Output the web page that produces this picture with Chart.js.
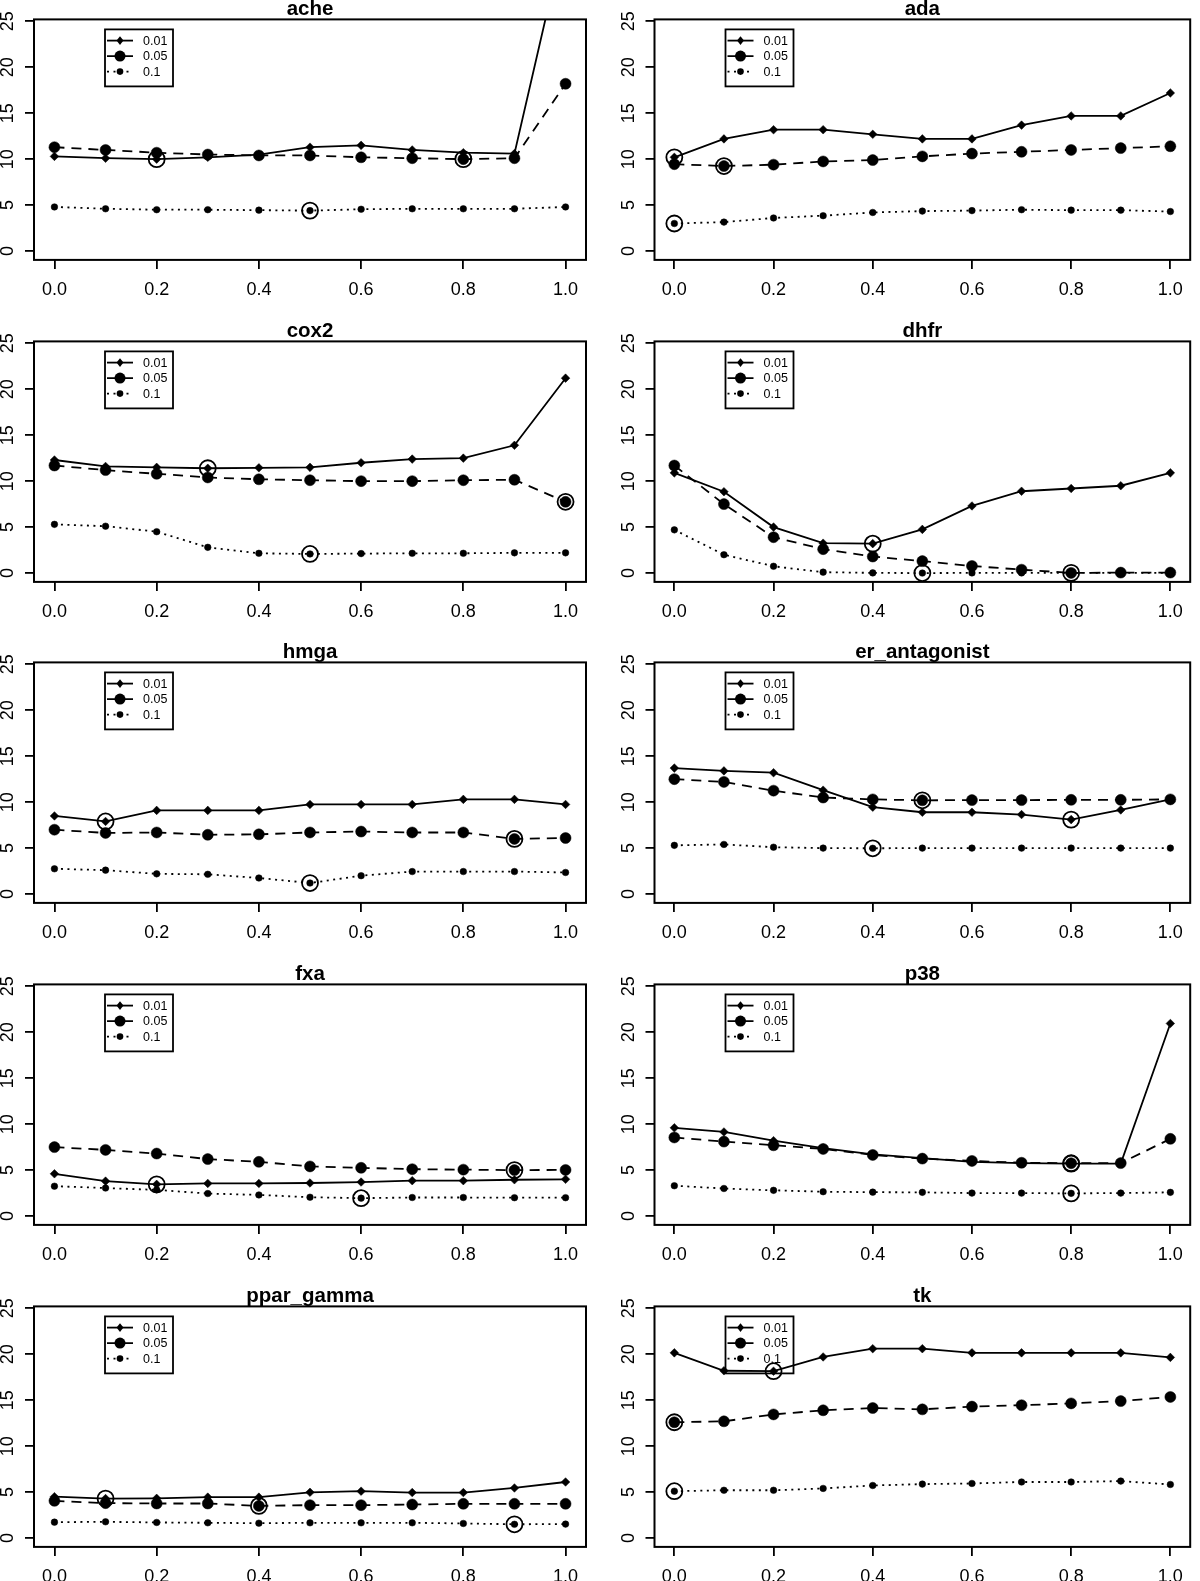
<!DOCTYPE html>
<html>
<head>
<meta charset="utf-8">
<script src="https://cdn.jsdelivr.net/npm/chart.js@4/dist/chart.umd.min.js"></script>
<style>
  html, body { margin: 0; padding: 0; background: #fff; }
  #page { position: relative; width: 1200px; height: 1581px; overflow: hidden; background: #fff; }
  #page canvas { position: absolute; }
</style>
</head>
<body>
<div id="page"></div>
<script>
// x grid shared by every panel
const xValues = [0, 0.1, 0.2, 0.3, 0.4, 0.5, 0.6, 0.7, 0.8, 0.9, 1.0];
const xTicks = [0, 0.2, 0.4, 0.6, 0.8, 1.0];
const yTicks = [0, 5, 10, 15, 20, 25];
const legendLabels = ['0.01', '0.05', '0.1'];
const panelNames = ['ache', 'ada', 'cox2', 'dhfr', 'hmga', 'er_antagonist', 'fxa', 'p38', 'ppar_gamma', 'tk'];

const ache01 = [10.3, 10.1, 10.0, 10.2, 10.5, 11.3, 11.5, 11.0, 10.7, 10.6, 34.7];
const ache05 = [11.3, 11.0, 10.7, 10.5, 10.4, 10.4, 10.2, 10.1, 10.0, 10.1, 18.2];
const ache10 = [4.8, 4.6, 4.5, 4.5, 4.45, 4.4, 4.55, 4.6, 4.6, 4.6, 4.8];
const acheBest = [2, 8, 5];

const ada01 = [10.2, 12.2, 13.2, 13.2, 12.7, 12.2, 12.2, 13.7, 14.7, 14.7, 17.2];
const ada05 = [9.45, 9.25, 9.4, 9.75, 9.9, 10.3, 10.6, 10.8, 11.0, 11.2, 11.4];
const ada10 = [3.0, 3.15, 3.6, 3.85, 4.2, 4.35, 4.4, 4.5, 4.45, 4.45, 4.3];
const adaBest = [0, 1, 0];

const cox2_01 = [12.3, 11.6, 11.5, 11.4, 11.45, 11.5, 12.0, 12.4, 12.5, 13.9, 21.2];
const cox2_05 = [11.7, 11.2, 10.8, 10.4, 10.2, 10.1, 10.0, 10.0, 10.1, 10.15, 7.75];
const cox2_10 = [5.3, 5.1, 4.5, 2.8, 2.15, 2.08, 2.12, 2.15, 2.15, 2.2, 2.2];
const cox2Best = [3, 10, 5];

const dhfr01 = [10.9, 8.85, 5.0, 3.25, 3.2, 4.75, 7.3, 8.9, 9.2, 9.5, 10.9];
const dhfr05 = [11.7, 7.5, 3.9, 2.6, 1.8, 1.3, 0.77, 0.37, 0.02, 0.05, 0.05];
const dhfr10 = [4.7, 2.0, 0.74, 0.1, 0.02, 0.0, 0.02, 0.02, 0.02, 0.02, 0.02];
const dhfrBest = [4, 8, 5];

const hmga01 = [8.5, 7.9, 9.1, 9.1, 9.1, 9.75, 9.75, 9.75, 10.3, 10.3, 9.75];
const hmga05 = [7.0, 6.65, 6.7, 6.45, 6.5, 6.7, 6.8, 6.7, 6.7, 6.0, 6.1];
const hmga10 = [2.75, 2.6, 2.2, 2.15, 1.75, 1.2, 2.0, 2.45, 2.45, 2.45, 2.35];
const hmgaBest = [1, 9, 5];

const er01 = [13.7, 13.4, 13.2, 11.3, 9.45, 8.9, 8.9, 8.65, 8.1, 9.15, 10.3];
const er05 = [12.5, 12.2, 11.25, 10.5, 10.3, 10.2, 10.22, 10.22, 10.25, 10.25, 10.3];
const er10 = [5.3, 5.4, 5.1, 5.0, 4.98, 5.0, 5.0, 5.0, 5.0, 5.0, 5.0];
const erBest = [8, 5, 4];

const fxa01 = [4.6, 3.8, 3.45, 3.55, 3.55, 3.6, 3.7, 3.85, 3.85, 3.95, 4.0];
const fxa05 = [7.5, 7.2, 6.8, 6.2, 5.9, 5.4, 5.25, 5.1, 5.05, 5.0, 5.02];
const fxa10 = [3.25, 3.05, 2.85, 2.45, 2.3, 2.05, 1.95, 2.02, 2.02, 2.0, 2.0];
const fxaBest = [2, 9, 6];

const p38_01 = [9.6, 9.15, 8.2, 7.4, 6.7, 6.3, 5.9, 5.75, 5.7, 5.72, 20.95];
const p38_05 = [8.55, 8.1, 7.7, 7.3, 6.65, 6.25, 6.0, 5.8, 5.75, 5.76, 8.4];
const p38_10 = [3.3, 3.0, 2.8, 2.65, 2.6, 2.58, 2.5, 2.5, 2.47, 2.5, 2.58];
const p38Best = [8, 8, 8];

const ppar01 = [4.5, 4.3, 4.32, 4.45, 4.45, 4.98, 5.1, 4.95, 4.95, 5.45, 6.1];
const ppar05 = [4.05, 3.8, 3.76, 3.76, 3.5, 3.58, 3.58, 3.65, 3.73, 3.73, 3.73];
const ppar10 = [1.73, 1.77, 1.7, 1.66, 1.62, 1.66, 1.66, 1.66, 1.59, 1.5, 1.52];
const pparBest = [1, 4, 9];

const tk01 = [20.15, 18.2, 18.15, 19.7, 20.6, 20.6, 20.15, 20.15, 20.15, 20.15, 19.65];
const tk05 = [12.6, 12.7, 13.45, 13.9, 14.15, 14.0, 14.3, 14.45, 14.65, 14.9, 15.35];
const tk10 = [5.1, 5.2, 5.2, 5.4, 5.72, 5.87, 5.94, 6.1, 6.1, 6.2, 5.83];
const tkBest = [2, 0, 0];

const panelSeries = [
  [ache01, ache05, ache10], [ada01, ada05, ada10],
  [cox2_01, cox2_05, cox2_10], [dhfr01, dhfr05, dhfr10],
  [hmga01, hmga05, hmga10], [er01, er05, er10],
  [fxa01, fxa05, fxa10], [p38_01, p38_05, p38_10],
  [ppar01, ppar05, ppar10], [tk01, tk05, tk10],
];
const panelBest = [acheBest, adaBest, cox2Best, dhfrBest, hmgaBest, erBest, fxaBest, p38Best, pparBest, tkBest];

// look of the three series (R type="b", lty 1/2/3)
const FONT = '"Liberation Sans", Arial, Helvetica, sans-serif';
const dashes = [[], [10, 7], [2, 4.5]];
const markers = ['rectRot', 'circle', 'circle'];
const markerSize = [4.3, 5.5, 3.3];

const CW = 600, CH = 322, ROW = 321.7;

function drawMarker(ctx, style, r, x, y) {
  ctx.beginPath();
  if (style === 'rectRot') {
    ctx.moveTo(x, y - r);
    ctx.lineTo(x + r * 0.8, y);
    ctx.lineTo(x, y + r);
    ctx.lineTo(x - r * 0.8, y);
    ctx.closePath();
  } else {
    ctx.arc(x, y, r, 0, Math.PI * 2);
  }
  ctx.fill();
}

const frame = {
  id: 'frame',
  beforeDatasetsDraw(chart) {
    const { ctx, chartArea: a } = chart;
    const lx = a.left + 71, ly = a.top + 10;
    ctx.save();
    ctx.fillStyle = '#fff';
    ctx.fillRect(lx, ly, 68, 57);
    ctx.strokeStyle = '#000';
    ctx.lineWidth = 1.8;
    ctx.strokeRect(lx, ly, 68, 57);
    ctx.font = '12.5px ' + FONT;
    ctx.textBaseline = 'middle';
    legendLabels.forEach((lab, i) => {
      const y = ly + 11.2 + 15.5 * i;
      ctx.setLineDash(dashes[i]);
      ctx.lineWidth = 1.8;
      ctx.beginPath();
      ctx.moveTo(lx + 2, y);
      ctx.lineTo(lx + 28, y);
      ctx.stroke();
      ctx.setLineDash([]);
      ctx.fillStyle = '#000';
      drawMarker(ctx, markers[i], markerSize[i], lx + 15, y);
      ctx.fillText(lab, lx + 38, y + 0.5);
    });
    ctx.restore();
  },
  afterDraw(chart) {
    const { ctx, chartArea: a } = chart;
    const ys = chart.scales.y;
    ctx.save();
    ctx.strokeStyle = '#000';
    ctx.lineWidth = 2;
    ctx.strokeRect(a.left, a.top, a.right - a.left, a.bottom - a.top);
    ctx.fillStyle = '#000';
    ctx.font = 'bold 20.5px ' + FONT;
    ctx.textAlign = 'center';
    ctx.textBaseline = 'alphabetic';
    ctx.fillText(chart.options.plugins.frame.title, (a.left + a.right) / 2, a.top - 4);
    ctx.font = '18px ' + FONT;
    for (const t of ys.ticks) {
      ctx.save();
      ctx.translate(a.left - 21, ys.getPixelForValue(t.value));
      ctx.rotate(-Math.PI / 2);
      ctx.fillText(String(t.value), 0, 0);
      ctx.restore();
    }
    ctx.restore();
  },
};

const page = document.getElementById('page');

panelNames.forEach((name, k) => {
  const col = k % 2, row = Math.floor(k / 2);
  const canvas = document.createElement('canvas');
  canvas.width = CW;
  canvas.height = CH;
  canvas.style.left = (col * CW) + 'px';
  canvas.style.top = Math.round(row * ROW) + 'px';
  page.appendChild(canvas);

  const series = panelSeries[k];
  const datasets = series.map((vals, i) => ({
    label: legendLabels[i],
    data: vals.map((v, j) => ({ x: xValues[j], y: v })),
    borderColor: '#000',
    backgroundColor: '#000',
    borderWidth: 1.8,
    borderDash: dashes[i],
    pointStyle: markers[i],
    pointRadius: markerSize[i],
    pointBackgroundColor: '#000',
    pointBorderColor: '#000',
    pointBorderWidth: 0.5,
    tension: 0,
    order: 1 + i,
  }));
  datasets.push({
    label: 'best',
    data: panelBest[k].map((j, i) => ({ x: xValues[j], y: series[i][j] })),
    showLine: false,
    pointStyle: 'circle',
    pointRadius: 8,
    pointBorderWidth: 1.8,
    pointBorderColor: '#000',
    pointBackgroundColor: 'rgba(0,0,0,0)',
    order: 0,
  });

  const tickGrid = { drawOnChartArea: false, drawTicks: true, tickLength: 9, color: '#000', lineWidth: 1.8 };

  new Chart(canvas, {
    type: 'line',
    data: { datasets },
    options: {
      responsive: false,
      animation: false,
      events: [],
      layout: { padding: { top: 19.4, right: col === 0 ? 14 : 3.1, bottom: 0, left: 0 } },
      plugins: {
        legend: { display: false },
        tooltip: { enabled: false },
        frame: { title: name },
      },
      scales: {
        x: {
          type: 'linear',
          min: -0.04,
          max: 1.04,
          afterBuildTicks: (s) => { s.ticks = xTicks.map(v => ({ value: v })); },
          afterFit: (s) => { s.height = 62.1; },
          grid: tickGrid,
          border: { display: false },
          ticks: {
            color: '#000',
            font: { family: FONT, size: 18 },
            padding: 10,
            maxRotation: 0,
            autoSkip: false,
            callback: (v) => Number(v).toFixed(1),
          },
        },
        y: {
          type: 'linear',
          min: -0.96,
          max: 25.2,
          afterBuildTicks: (s) => { s.ticks = yTicks.map(v => ({ value: v })); },
          afterFit: (s) => { s.width = col === 0 ? 34 : 54.5; },
          grid: tickGrid,
          border: { display: false },
          ticks: { display: false },
        },
      },
    },
    plugins: [frame],
  });
});
</script>
</body>
</html>
